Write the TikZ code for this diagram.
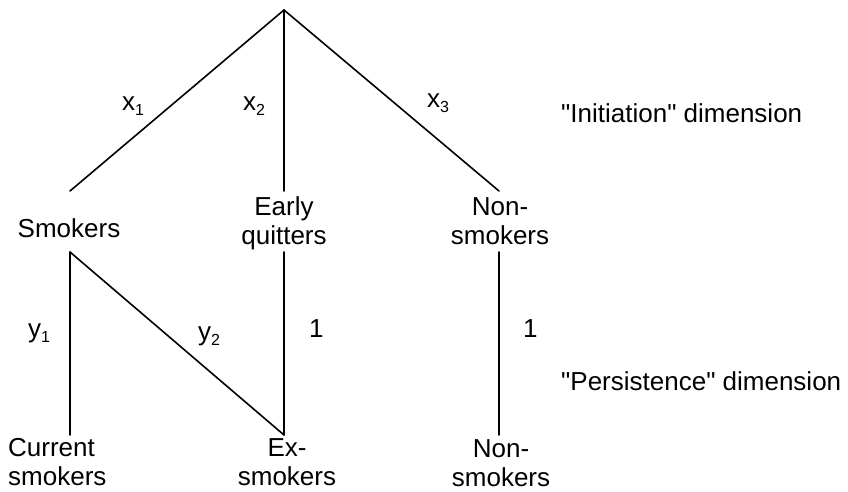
\documentclass[tikz,border=0pt]{standalone}
\usepackage{fontspec}
\setmainfont{Liberation Sans}[Ligatures=TeXOff]
\newcommand{\subl}[2]{#1\raisebox{-5pt}{\fontsize{16}{16}\selectfont #2}}
\begin{document}
\begin{tikzpicture}[x=1pt,y=-1pt,
  branch/.style={line width=1.6pt,line cap=round},
  cat/.style={inner sep=0pt,font=\fontsize{26}{29}\selectfont,align=center},
  wt/.style={inner sep=0pt,font=\fontsize{26}{29}\selectfont,anchor=base west},
  dim/.style={inner sep=0pt,font=\fontsize{26}{29}\selectfont,anchor=base west}]
% canvas
\fill[white] (0,0) rectangle (848,491);
\useasboundingbox (0,0) rectangle (848,491);

% branch points of the tree
\coordinate (root) at (284,10);
\coordinate (smokTop) at (70,191);
\coordinate (earlyTop) at (284,191);
\coordinate (nonTop) at (499,191);
\coordinate (smokBot) at (70,252);
\coordinate (earlyBot) at (284,252);
\coordinate (nonBot) at (499,252);
\coordinate (currTop) at (70,435);
\coordinate (exTop) at (284,435);
\coordinate (non2Top) at (499,435);

% category labels
\node[cat,anchor=base] (smokers) at (69,237) {Smokers};
\node[cat,anchor=north] (early) at (284,196.4) {Early\\quitters};
\node[cat,anchor=north] (nonsmokers) at (500,197.4) {Non-\\smokers};
\node[cat,anchor=north west,align=left] (current) at (8,438) {Current\\smokers};
\node[cat,anchor=north] (exsmokers) at (287,438.5) {Ex-\\smokers};
\node[cat,anchor=north] (nonsmokers2) at (501,439) {Non-\\smokers};

% initiation branches
\draw[branch] (smokTop) -- (root) -- (nonTop);
\draw[branch] (root) -- (earlyTop);

% persistence branches
\draw[branch] (smokBot) -- (currTop);
\draw[branch] (smokBot) -- (exTop);
\draw[branch] (earlyBot) -- (exTop);
\draw[branch] (nonBot) -- (non2Top);

% branch weights
\node[wt] (x1) at (122,110) {\subl{x}{1}};
\node[wt] (x2) at (243,110) {\subl{x}{2}};
\node[wt] (x3) at (427,107) {\subl{x}{3}};
\node[wt] (y1) at (28,337) {\subl{y}{1}};
\node[wt] (y2) at (198,340) {\subl{y}{2}};
\node[wt] (one1) at (309,337) {1};
\node[wt] (one2) at (523,337) {1};

% dimension captions
\node[dim] (initdim) at (561,122) {"Initiation" dimension};
\node[dim] (persdim) at (561,390) {"Persistence" dimension};
\end{tikzpicture}
\end{document}
